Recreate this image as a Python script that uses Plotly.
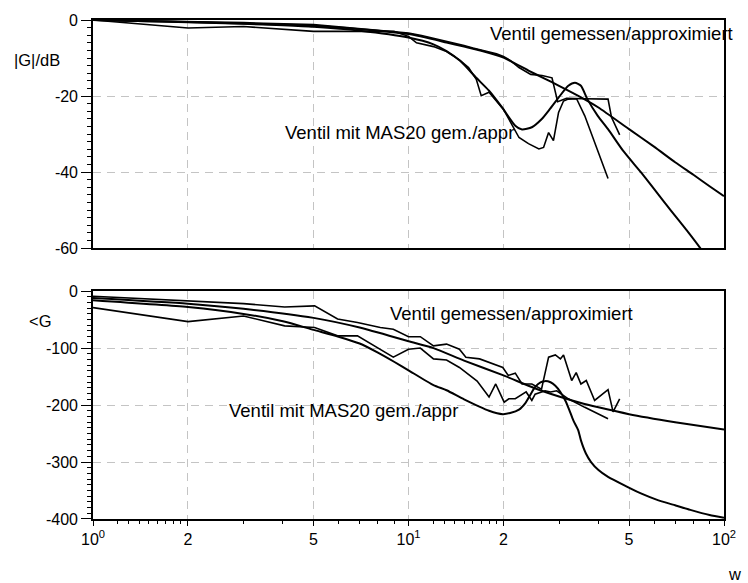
import plotly.graph_objects as go

# ---------------- data ----------------
# magnitude |G| in dB
w_ventil_appr_mag = [1, 1.5, 2, 3, 4, 5, 7, 10, 13.2, 15, 17, 20, 24, 27, 30, 35, 40, 50, 60, 70, 80, 90, 100]
mag_ventil_appr = [0, -0.3, -0.5, -0.9, -1.2, -1.5, -2.4, -3.7, -5.9, -7.0, -8.1, -9.9, -13.3, -15.4, -17.3, -20.2, -23.0, -28.7, -33.3, -37.4, -40.7, -43.7, -46.3]

w_mas_appr_mag = [1, 1.5, 2, 3, 4, 5, 7, 10, 12, 13.2, 14.6, 16.4, 18, 19.8, 21.8, 22.9, 24.6, 26.4, 28, 29.9, 32.1, 33.7, 35.2, 36.9, 39.8, 42.9, 48, 54.5, 60, 68.3, 76, 84.1, 90]
mag_mas_appr = [0, -0.3, -0.6, -1.0, -1.4, -1.8, -2.8, -4.6, -6.4, -8.2, -10.8, -15.2, -18.6, -23.0, -27.8, -28.8, -28.2, -26.1, -23.5, -20.4, -17.3, -16.5, -17.3, -20.8, -25.2, -28.7, -34.5, -40.0, -44.4, -50.4, -55.2, -60.0, -63.5]

w_ventil_meas_mag = [1, 2, 3, 5, 7, 9, 10, 11, 12, 13, 14, 15, 16, 17, 18, 19, 20, 21, 22.4, 24.4, 26.5, 28.5, 29.7, 31.7, 36, 42.9, 44, 46.7]
mag_ventil_meas = [0, -0.4, -0.7, -1.2, -2.2, -3.0, -3.4, -4.1, -4.8, -5.4, -6.0, -6.7, -7.4, -7.9, -8.3, -8.9, -9.6, -10.6, -12.5, -14.3, -14.6, -15.2, -21.5, -20.6, -20.7, -20.8, -25.6, -30.2]

w_mas_meas_mag = [1, 2, 3, 5, 7, 9, 10, 10.6, 12, 13.2, 14.5, 15.5, 16.4, 17, 18, 20, 22.4, 24, 25.9, 26.8, 27.8, 28.8, 29.9, 31, 32.1, 34.1, 36.2, 38.9, 42.9]
mag_mas_meas = [0, -2.1, -1.7, -3.0, -3.0, -3.0, -4.3, -6.0, -7.0, -8.3, -10.5, -12.5, -15.6, -19.9, -19.0, -23.5, -30.9, -32.5, -33.9, -33.5, -29.6, -31.7, -24.3, -21.3, -20.8, -20.7, -25.2, -32.2, -41.7]

# phase in degrees
w_ventil_appr_ph = [1, 2, 3, 5, 7, 10, 12, 15, 20, 25, 30, 35, 40, 50, 70, 100]
ph_ventil_appr = [-12, -22, -31, -47, -64, -88, -100, -122, -148, -170, -185, -196, -204, -216, -230, -243]

w_mas_appr_ph = [1, 2, 3, 4, 5, 6, 7, 8, 9, 10, 12, 13.2, 15, 18, 19.9, 21, 22.4, 23.5, 24.1, 25.2, 26.2, 27.1, 28.2, 29.2, 30.3, 31.4, 32.3, 33.3, 34.5, 35.2, 36.5, 37.9, 40, 42.9, 49.2, 55, 61.1, 70, 78.2, 90, 100]
ph_mas_appr = [-16, -28, -40, -53, -68, -80, -92, -108, -124, -139, -165, -174, -190, -210, -216, -214, -208, -196, -186, -168, -160, -158, -160, -166, -177, -192, -208, -227, -244, -262, -285, -300, -314, -326, -343, -356, -366, -376, -384, -393, -398]

w_ventil_meas_ph = [1, 2, 3, 4.05, 5.04, 5.96, 6.89, 8.14, 8.95, 10, 10.9, 12, 13.2, 14.5, 15.2, 16.8, 18, 19.9, 20.7, 21.8, 22.9, 24.6, 26.4, 27.8, 29.2, 30.3, 31, 32.9, 34, 35.2, 36.6, 38.9, 42.9, 44.5, 46.7]
ph_ventil_meas = [-9, -18, -22, -28, -26, -49, -55, -64, -67, -80, -80, -96, -93, -102, -116, -119, -125, -134, -148, -144, -163, -163, -172, -116, -112, -119, -112, -157, -143, -163, -157, -192, -173, -212, -189]

w_mas_meas_ph = [1, 2, 3, 4.05, 5.04, 5.96, 6.89, 8.95, 10, 10.9, 12, 13.2, 14.5, 16.5, 18, 18.9, 20.1, 20.8, 21.8, 23.6, 24.6, 25.2, 27.1, 28.2, 29.5, 32.1, 36.2, 42.9]
ph_mas_meas = [-29, -53.5, -43.6, -61, -64, -78.5, -78.5, -116, -102, -100, -119, -121, -134, -158, -186, -163, -195, -189, -189, -177, -192, -181, -175, -177, -175, -189, -204, -224]

tick_w = [1, 2, 5, 10, 20, 50, 100]
tick_w_text = ["10<sup>0</sup>", "2", "5", "10<sup>1</sup>", "2", "5", "10<sup>2</sup>"]
minor_w = [1.2, 1.3, 1.4, 1.5, 1.6, 1.7, 1.8, 1.9, 3, 4, 6, 7, 8, 9,
           12, 13, 14, 15, 16, 17, 18, 19, 30, 40, 60, 70, 80, 90]
tick_mag = [0, -20, -40, -60]
tick_mag_text = ["0", "-20", "-40", "-60"]
tick_ph = [0, -100, -200, -300, -400]
tick_ph_text = ["0", "-100", "-200", "-300", "-400"]

# ---------------- figure ----------------
FONT = "Liberation Sans, Arial, Helvetica, sans-serif"
fig = go.Figure()

def add(x, y, xa, ya, smooth):
    fig.add_trace(go.Scatter(
        x=x, y=y, xaxis=xa, yaxis=ya, mode="lines",
        line=dict(color="black", width=2.0 if smooth else 1.6,
                  shape="spline" if smooth else "linear", smoothing=0.6 if smooth else None),
        showlegend=False, hoverinfo="skip"))

add(w_ventil_appr_mag, mag_ventil_appr, "x2", "y2", True)
add(w_mas_appr_mag, mag_mas_appr, "x2", "y2", True)
add(w_ventil_meas_mag, mag_ventil_meas, "x2", "y2", False)
add(w_mas_meas_mag, mag_mas_meas, "x2", "y2", False)

add(w_ventil_appr_ph, ph_ventil_appr, "x", "y", True)
add(w_mas_appr_ph, ph_mas_appr, "x", "y", True)
add(w_ventil_meas_ph, ph_ventil_meas, "x", "y", False)
add(w_mas_meas_ph, ph_mas_meas, "x", "y", False)

grid = dict(showgrid=True, gridcolor="#c4c4c4", gridwidth=1, griddash="8px,6px",
            showline=True, linecolor="black", linewidth=1.6, mirror=True, zeroline=False)

fig.update_layout(
    width=748, height=583,
    margin=dict(l=93, r=17, t=17, b=64),
    paper_bgcolor="white", plot_bgcolor="white",
    font=dict(family=FONT, size=16, color="black"),
    xaxis=dict(type="log", range=[0, 2], anchor="y", domain=[0, 1],
               tickmode="array", tickvals=tick_w, ticktext=tick_w_text,
               ticks="outside", ticklen=5, tickwidth=1.2, tickcolor="black",
               minor=dict(tickmode="array", tickvals=minor_w, ticks="outside", ticklen=3,
                          tickcolor="black", showgrid=False),
               tickfont=dict(size=16), **grid),
    yaxis=dict(range=[-400, 0], domain=[0, 0.4567], anchor="x",
               tickmode="array", tickvals=tick_ph, ticktext=tick_ph_text,
               ticks="outside", ticklen=10, tickwidth=1.2, tickcolor="black",
               minor=dict(dtick=10, tick0=0, ticks="outside", ticklen=4, tickcolor="black", showgrid=False),
               tickfont=dict(size=16), **grid),
    xaxis2=dict(type="log", range=[0, 2], anchor="y2", domain=[0, 1], matches="x",
                tickmode="array", tickvals=tick_w, showticklabels=False, ticks="", **grid),
    yaxis2=dict(range=[-60, 0], domain=[0.5427, 1], anchor="x2",
                tickmode="array", tickvals=tick_mag, ticktext=tick_mag_text,
                ticks="outside", ticklen=10, tickwidth=1.2, tickcolor="black",
                minor=dict(dtick=2, tick0=0, ticks="outside", ticklen=4, tickcolor="black", showgrid=False),
                tickfont=dict(size=16), **grid),
)

def note(text, x, y, xanchor="left", size=18.5):
    fig.add_annotation(text=text, x=x, y=y, xref="paper", yref="paper",
                       xanchor=xanchor, yanchor="middle", showarrow=False,
                       font=dict(family=FONT, size=size, color="black"))

note("Ventil gemessen/approximiert", 0.6254, 0.9731)
note("Ventil mit MAS20 gem./appr", 0.3009, 0.7749)
note("Ventil gemessen/approximiert", 0.4682, 0.4124)
note("Ventil mit MAS20 gem./appr", 0.2121, 0.2171)
note("|G|/dB", -0.0893, 0.9203, "center", 16.5)
note("&lt;G", -0.0846, 0.3964, "center", 16.5)
note("w", 1.0172, -0.1096, "center", 16.5)

fig.write_html("out.html", config={"displayModeBar": False},
               post_script="document.body.style.margin='0';")
